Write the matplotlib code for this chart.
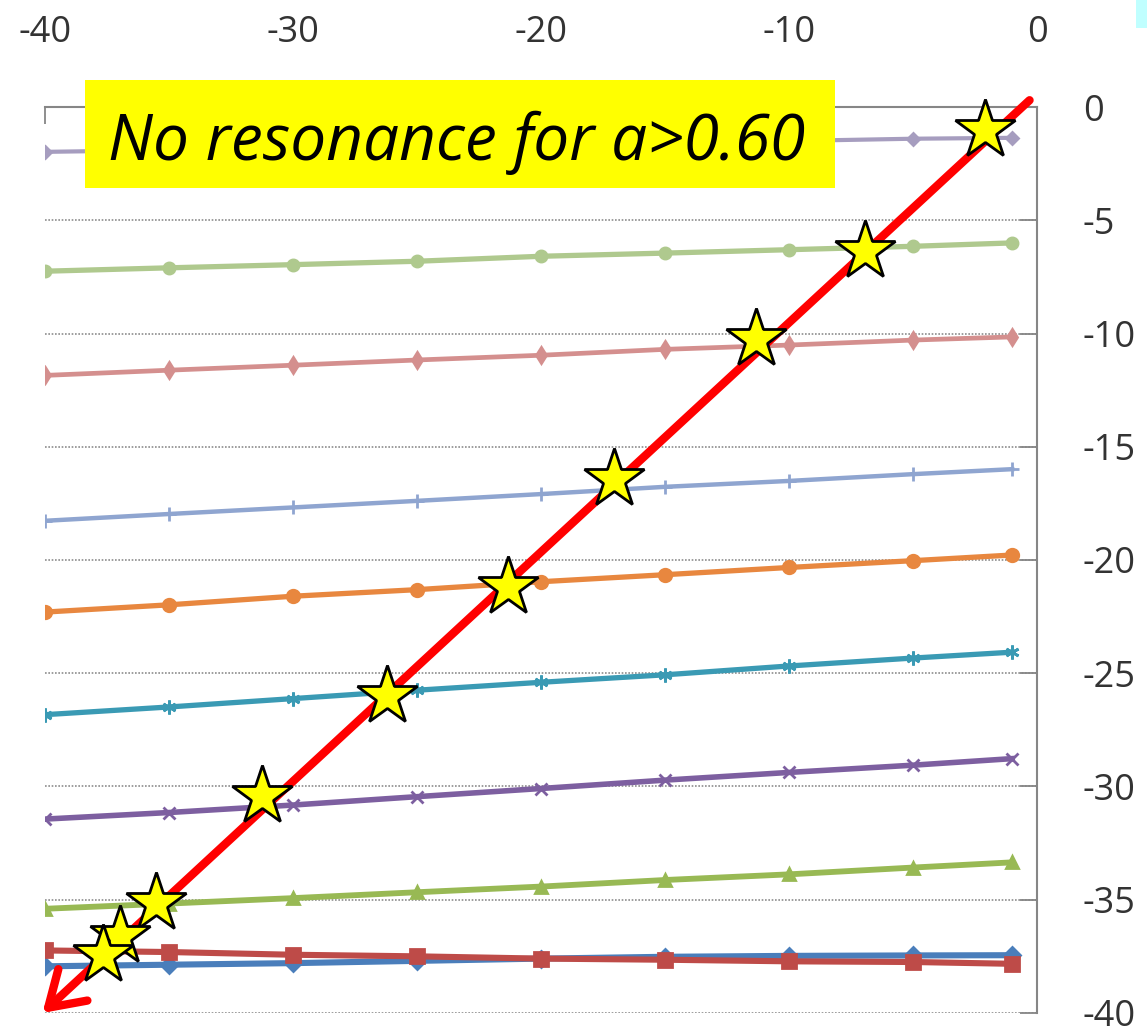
import matplotlib.pyplot as plt
from matplotlib.patches import Rectangle

plt.rcParams['axes.unicode_minus'] = False
plt.rcParams['font.family'] = ['Open Sans', 'DejaVu Sans']

# x positions of the computed points
x_pts = [-40, -35, -30, -25, -20, -15, -10, -5, -1]

# curves (top to bottom)
y_lpurple = [-1.98, -1.90, -1.82, -1.74, -1.66, -1.58, -1.50, -1.40, -1.36]
y_lgreen = [-7.25, -7.10, -6.96, -6.81, -6.59, -6.45, -6.30, -6.15, -6.00]
y_pink = [-11.85, -11.62, -11.40, -11.17, -10.96, -10.70, -10.51, -10.29, -10.15]
y_lblue = [-18.27, -17.97, -17.68, -17.39, -17.09, -16.77, -16.51, -16.21, -15.99]
y_orange = [-22.30, -21.98, -21.60, -21.31, -20.96, -20.65, -20.33, -20.03, -19.78]
y_teal = [-26.83, -26.49, -26.12, -25.75, -25.40, -25.07, -24.68, -24.33, -24.07]
y_dpurple = [-31.44, -31.15, -30.82, -30.45, -30.09, -29.72, -29.38, -29.06, -28.77]
y_green = [-35.40, -35.17, -34.93, -34.67, -34.42, -34.13, -33.88, -33.58, -33.35]
y_dred = [-37.24, -37.31, -37.43, -37.50, -37.60, -37.65, -37.72, -37.75, -37.83]
y_dblue = [-37.94, -37.87, -37.80, -37.70, -37.60, -37.52, -37.48, -37.46, -37.45]

series = [
    (y_dblue, '#4A7EBB', 'D', 8, 4.4),
    (y_dred, '#BE4B48', 's', 10, 4.4),
    (y_green, '#98B954', '^', 9, 4.2),
    (y_dpurple, '#7D5FA0', 'x', 9, 4.0),
    (y_teal, '#3A9AB4', (6, 2, 0), 10, 3.8),
    (y_orange, '#E8873F', 'o', 9, 3.8),
    (y_lblue, '#8FA5D0', '+', 10, 3.2),
    (y_pink, '#D48F8E', 'd', 8, 3.4),
    (y_lgreen, '#AFC98E', 'o', 8, 3.8),
    (y_lpurple, '#A69DBF', 'D', 6, 3.0),
]

# red diagonal (hand drawn arrow) and resonance stars
red_x = [-0.3, -40.1]
red_y = [0.3, -40.0]
star_x = [-2.10, -6.94, -11.34, -17.06, -21.33, -26.21, -31.25, -35.52, -36.98, -37.66]
star_y = [-1.01, -6.37, -10.26, -16.43, -21.19, -25.99, -30.40, -35.15, -36.62, -37.44]

fig = plt.figure(figsize=(11.47, 10.31), dpi=100)
ax = fig.add_axes([0.0392, 0.0175, 0.8649, 0.8787])

for ys, col, mk, ms, lw in series:
    ax.plot(x_pts, ys, color=col, lw=lw, marker=mk, ms=ms, mew=2,
            mfc=col, mec=col, zorder=3)

ax.annotate('', xy=(red_x[1], red_y[1]), xytext=(red_x[0], red_y[0]),
            arrowprops=dict(arrowstyle='->,head_length=1.1,head_width=0.7',
                            color='red', lw=6, mutation_scale=22,
                            shrinkA=0, shrinkB=0),
            annotation_clip=False, zorder=5)

ax.plot(star_x, star_y, linestyle='none', marker='*', ms=45, mfc='#FFFF00',
        mec='black', mew=2.0, zorder=6, clip_on=False)

ax.set_xlim(-40, 0)
ax.set_ylim(-40, 0)
ax.set_xticks([-40, -30, -20, -10, 0])
ax.set_yticks(range(-40, 1, 5))
ax.xaxis.tick_top()
ax.yaxis.tick_right()
ax.tick_params(axis='both', direction='in', length=12, width=1.3,
               color='#868686', labelsize=26, labelcolor='#333333')
ax.tick_params(axis='x', pad=40)
ax.tick_params(axis='y', pad=33)
for lab in ax.get_yticklabels():
    lab.set_horizontalalignment('left')
    lab.set_verticalalignment('center_baseline')

ax.yaxis.grid(True, linestyle=(0, (1, 1)), color='#8c8c8c', lw=1.2)
ax.set_axisbelow(True)
for side in ['left', 'bottom']:
    ax.spines[side].set_visible(False)
for side in ['top', 'right']:
    ax.spines[side].set_color('#868686')
    ax.spines[side].set_linewidth(1.5)

# yellow label box
fig.patches.append(Rectangle((0.0741, 0.8177), 0.6539, 0.1048,
                             transform=fig.transFigure, facecolor='#FFFF00',
                             edgecolor='none', zorder=10))
fig.text(0.0942, 0.8448, 'No resonance for a>0.60', fontsize=46,
         style='italic', color='black', va='baseline', zorder=11)

# cut-off cyan shape at the top right corner
fig.patches.append(Rectangle((0.990, 0.973), 0.012, 0.027,
                             transform=fig.transFigure, facecolor='#C0FFFF',
                             edgecolor='none'))

fig.savefig('out.png', dpi=100)
